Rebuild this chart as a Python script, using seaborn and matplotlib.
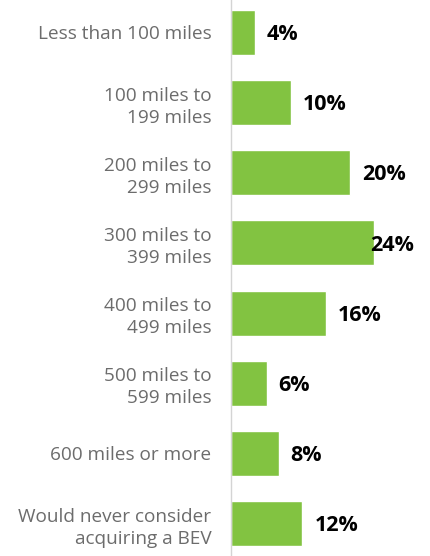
import matplotlib
matplotlib.use("Agg")
import matplotlib.pyplot as plt
import seaborn as sns
import pandas as pd

# range preference of respondents
categories = ["Less than 100 miles", "100 miles to\n199 miles", "200 miles to\n299 miles",
              "300 miles to\n399 miles", "400 miles to\n499 miles", "500 miles to\n599 miles",
              "600 miles or more", "Would never consider\nacquiring a BEV"]
values = [4, 10, 20, 24, 16, 6, 8, 12]

df = pd.DataFrame({"cat": categories, "val": values})

sns.set_style("white")
plt.rcParams['font.family'] = ['Open Sans', 'DejaVu Sans']

fig = plt.figure(figsize=(4.31, 5.56), dpi=100)
ax = fig.add_axes([231/431, -0.005, 200/431, 1.01])

sns.barplot(data=df, x="val", y="cat", orient="h", color="#82c341",
            width=0.64, saturation=1, ax=ax)

ax.set_xlim(0, 33.6)
ax.set_ylim(7.5, -0.5)
for i, v in enumerate(values):
    # the biggest bar label sits back over the bar end
    ax.text(min(v + 2.0, 23.3), i + 0.03, f"{v}%", va="center", ha="left",
            fontsize=15.5, fontweight="bold", color="black")

ax.set_xlabel("")
ax.set_ylabel("")
ax.set_xticks([])
ax.tick_params(axis="y", length=0, pad=14, labelsize=13.7, labelcolor="#6c6c6c")
for lbl in ax.get_yticklabels():
    lbl.set_horizontalalignment("right")
    lbl.set_multialignment("right")
    lbl.set_linespacing(1.3)
for s in ["top", "right", "bottom"]:
    ax.spines[s].set_visible(False)
ax.spines["left"].set_color("#d4d4d4")
ax.spines["left"].set_linewidth(1)

fig.savefig("out.png", dpi=100)
